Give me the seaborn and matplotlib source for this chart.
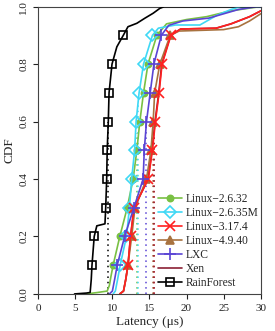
import matplotlib
matplotlib.use("Agg")
import matplotlib.pyplot as plt
import seaborn as sns

# CDF curves (latency in us, cumulative fraction)
linux2632_x = [6.5, 8.0, 9.3, 9.6, 9.8, 10.1, 11.0, 12.0, 12.8, 13.3, 13.7, 14.2, 14.8, 16.0, 17.3, 20.0, 22.7, 25.9, 29.9, 30.0]
linux2632_y = [0.0, 0.005, 0.01, 0.03, 0.06, 0.1, 0.2, 0.3, 0.4, 0.5, 0.6, 0.7, 0.8, 0.9, 0.94, 0.955, 0.965, 0.985, 1.0, 1.0]

linux2635m_x = [10.1, 10.4, 10.7, 11.05, 11.9, 12.3, 12.6, 13.0, 13.2, 13.6, 14.2, 15.4, 16.2, 18.5, 21.8, 24.1, 26.0, 27.3, 30.0]
linux2635m_y = [0.0, 0.01, 0.05, 0.1, 0.2, 0.3, 0.4, 0.5, 0.6, 0.7, 0.8, 0.9, 0.925, 0.936, 0.936, 0.97, 0.99, 1.0, 1.0]

linux3174_x = [11.0, 11.5, 11.8, 12.1, 12.45, 12.9, 14.85, 15.4, 15.8, 16.3, 16.7, 17.9, 19.2, 24.0, 26.0, 27.5, 28.5, 30.0]
linux3174_y = [0.0, 0.01, 0.05, 0.1, 0.2, 0.3, 0.4, 0.5, 0.6, 0.7, 0.8, 0.9, 0.922, 0.925, 0.94, 0.955, 0.965, 0.985]

linux4940_x = [11.0, 11.5, 11.8, 12.1, 12.6, 13.05, 14.6, 15.2, 15.5, 15.7, 16.4, 17.8, 19.0, 25.0, 27.0, 28.5, 30.0]
linux4940_y = [0.0, 0.01, 0.05, 0.1, 0.2, 0.3, 0.4, 0.5, 0.6, 0.7, 0.8, 0.9, 0.915, 0.92, 0.93, 0.95, 0.975]

lxc_x = [9.6, 10.0, 10.3, 10.65, 11.65, 12.9, 14.15, 14.3, 14.6, 15.1, 15.6, 16.6, 17.6, 19.5, 23.0, 25.0, 27.0, 29.5, 30.0]
lxc_y = [0.0, 0.01, 0.05, 0.1, 0.2, 0.3, 0.4, 0.5, 0.6, 0.7, 0.8, 0.9, 0.935, 0.95, 0.96, 0.975, 0.99, 1.0, 1.0]

xen_x = [11.0, 11.5, 11.8, 12.1, 12.45, 12.95, 14.8, 15.35, 15.75, 16.25, 16.65, 17.85, 19.2, 24.0, 26.0, 27.5, 28.5, 30.0]
xen_y = [0.0, 0.01, 0.05, 0.1, 0.2, 0.3, 0.4, 0.5, 0.6, 0.7, 0.8, 0.9, 0.922, 0.925, 0.94, 0.955, 0.965, 0.985]

rainforest_x = [4.9, 6.5, 7.0, 7.15, 7.25, 7.55, 7.9, 9.0, 9.1, 9.23, 9.3, 9.45, 9.55, 9.95, 10.6, 11.47, 12.1, 13.3, 14.4, 15.5, 16.4, 17.0, 30.0]
rainforest_y = [0.0, 0.003, 0.005, 0.05, 0.1, 0.2, 0.237, 0.244, 0.3, 0.4, 0.5, 0.6, 0.7, 0.8, 0.86, 0.9, 0.93, 0.942, 0.96, 0.977, 0.994, 1.0, 1.0]

# mean latency of each system (dotted drop lines)
mean_latency = [13.3, 13.45, 15.65, 15.5, 14.5, 15.6, 9.45]
mean_cdf = [0.56, 0.66, 0.56, 0.58, 0.58, 0.56, 0.6]

labels = ["Linux\u22122.6.32", "Linux\u22122.6.35M", "Linux\u22123.17.4", "Linux\u22124.9.40",
          "LXC", "Xen", "RainForest"]
curves = [(linux2632_x, linux2632_y), (linux2635m_x, linux2635m_y), (linux3174_x, linux3174_y),
          (linux4940_x, linux4940_y), (lxc_x, lxc_y), (xen_x, xen_y), (rainforest_x, rainforest_y)]
colors = ["#79c043", "#3fd8f5", "#ff2020", "#a8723f", "#5a44d4", "#8b2035", "#000000"]
markers = ["o", "D", "x", "^", "+", None, "s"]
marker_sizes = [4.5, 6, 6.5, 5.5, 9, 0, 6]
filled = [True, False, False, True, False, False, False]
zorders = [3, 4, 6, 5, 7, 2, 8]
deciles = [0.1, 0.2, 0.3, 0.4, 0.5, 0.6, 0.7, 0.8, 0.9]

sns.set_style("ticks")
plt.rcParams['font.family'] = ['Liberation Serif', 'DejaVu Serif']

fig = plt.figure(figsize=(2.75, 3.31), dpi=100)
ax = fig.add_axes([0.139, 0.112, 0.809, 0.868])

handles = []
for (xs, ys), lab, col, mk, ms, fill, z in zip(curves, labels, colors, markers,
                                               marker_sizes, filled, zorders):
    every = [i for i, v in enumerate(ys) if round(v, 3) in deciles]
    sns.lineplot(x=xs, y=ys, sort=False, estimator=None, ax=ax, color=col, lw=1.2,
                 marker=mk if mk else "", markevery=every, ms=ms,
                 mfc=col if fill else "none", mec=col, mew=1.2, zorder=z, label=lab)
    handles.append(ax.lines[-1])

for m, c, col in zip(mean_latency, mean_cdf, colors):
    ax.vlines(m, 0, c, colors=col, linestyles=(0, (1, 2.5)), lw=1.1, zorder=1)

ax.set_xlim(0, 30)
ax.set_ylim(0, 1)
ax.set_xticks([0, 5, 10, 15, 20, 25, 30])
ax.set_yticks([0.0, 0.2, 0.4, 0.6, 0.8, 1.0])
ax.set_yticklabels(["0.0", "0.2", "0.4", "0.6", "0.8", "1.0"], rotation=90, va="center")
ax.tick_params(length=3.6, width=0.8, pad=3.5, labelsize=8, colors="#222222")
for sp in ax.spines.values():
    sp.set_visible(True)
    sp.set_linewidth(0.8)
    sp.set_color("#444444")

ax.set_xlabel("Latency (\u03bcs)", fontsize=9.5, labelpad=2)
ax.set_ylabel("CDF", fontsize=9.5, labelpad=3)

ax.legend(handles, labels, loc="lower left", bbox_to_anchor=(0.525, 0.005), frameon=False,
          fontsize=8.3, handlelength=2.0, handletextpad=0.4, labelspacing=0.18,
          borderpad=0.3, borderaxespad=0.0)

fig.savefig("out.png", dpi=100)
